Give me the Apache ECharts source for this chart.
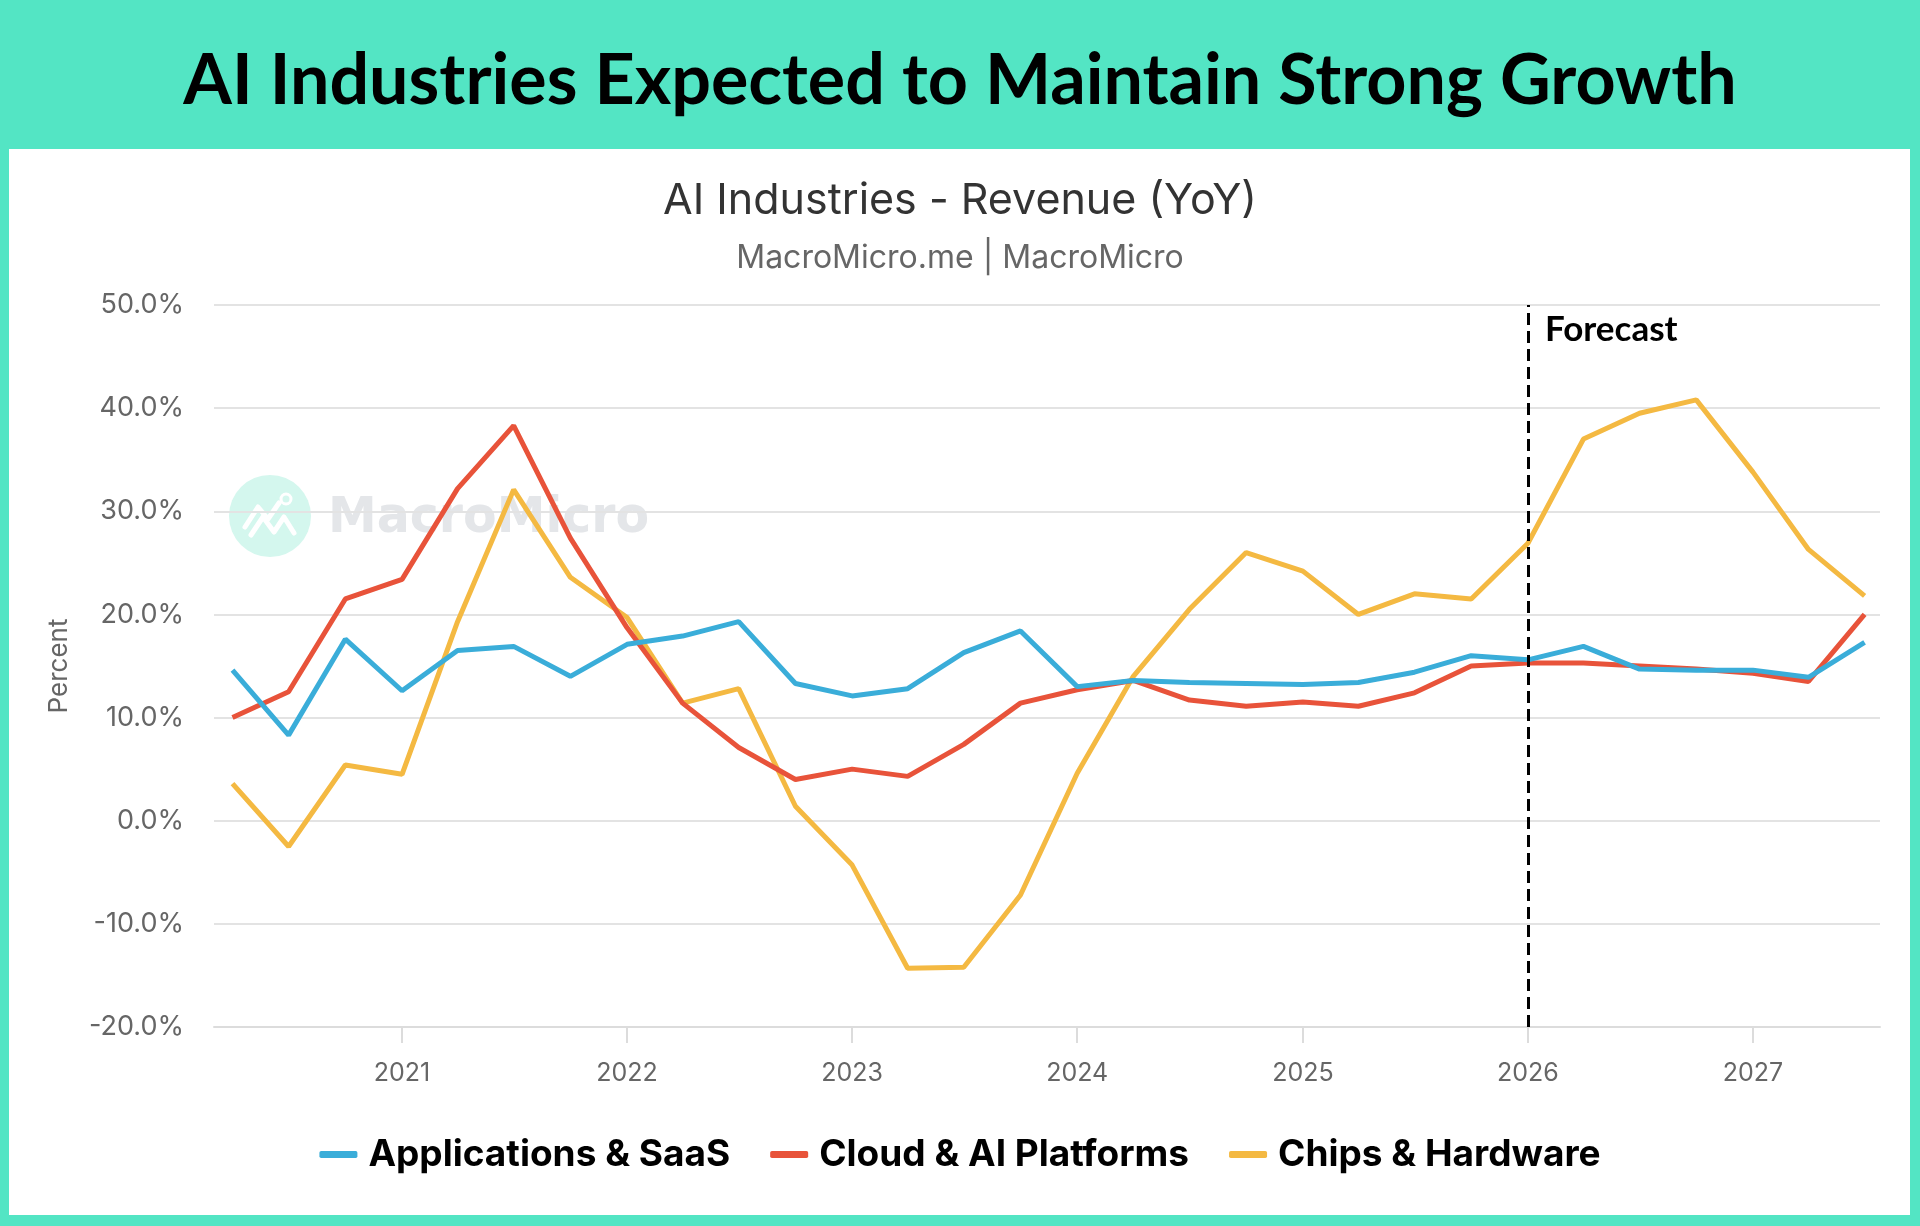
<!DOCTYPE html>
<html>
<head>
<meta charset="utf-8">
<title>AI Industries - Revenue (YoY)</title>
<script src="https://cdn.jsdelivr.net/npm/echarts@6.0.0/dist/echarts.min.js"></script>
<style>
    html, body { margin: 0; padding: 0; background: #53e5c4; }
    .chart { width: 1920px; height: 1226px; }
</style>
</head>
<body>
<div class="chart"></div>
<script>
// 季度日期（2020Q2 - 2027Q3）
var quarters = [
    "2020-04-01", "2020-07-01", "2020-10-01",
    "2021-01-01", "2021-04-01", "2021-07-01", "2021-10-01",
    "2022-01-01", "2022-04-01", "2022-07-01", "2022-10-01",
    "2023-01-01", "2023-04-01", "2023-07-01", "2023-10-01",
    "2024-01-01", "2024-04-01", "2024-07-01", "2024-10-01",
    "2025-01-01", "2025-04-01", "2025-07-01", "2025-10-01",
    "2026-01-01", "2026-04-01", "2026-07-01", "2026-10-01",
    "2027-01-01", "2027-04-01", "2027-07-01"
];
var seriesNames = ["Applications & SaaS", "Cloud & AI Platforms", "Chips & Hardware"];
var appsSaas = [14.6, 8.3, 17.6, 12.6, 16.5, 16.9, 14.0, 17.1, 17.9, 19.3, 13.3, 12.1, 12.8, 16.3, 18.4,
    13.0, 13.6, 13.4, 13.3, 13.2, 13.4, 14.4, 16.0, 15.6, 16.9, 14.7, 14.6, 14.6, 13.9, 17.3];
var cloudAi = [10.0, 12.5, 21.5, 23.4, 32.2, 38.3, 27.4, 18.7, 11.4, 7.1, 4.0, 5.0, 4.3, 7.4, 11.4,
    12.7, 13.6, 11.7, 11.1, 11.5, 11.1, 12.4, 15.0, 15.3, 15.3, 15.0, 14.7, 14.3, 13.5, 20.0];
var chipsHw = [3.6, -2.5, 5.4, 4.5, 19.3, 32.1, 23.6, 19.7, 11.4, 12.8, 1.4, -4.3, -14.3, -14.2, -7.2,
    4.6, 14.0, 20.5, 26.0, 24.2, 20.0, 22.0, 21.5, 26.9, 37.0, 39.5, 40.8, 33.8, 26.3, 21.8];
var yTicks = [-20, -10, 0, 10, 20, 30, 40, 50];
var forecastStart = "2026-01-01";
var xRange = ["2020-03-02", "2027-07-26"];

(function() {
    var myChart = echarts.init(document.querySelector(".chart"));

    // 日期 + 数值 组合成点
    function pairs(values) {
        return values.map(function(v, i) {
            return [quarters[i], v];
        });
    }

    var YEAR = 365 * 24 * 3600 * 1000;
    var font = "Inter, 'Noto Sans', sans-serif";

    var option = {
        backgroundColor: "#53e5c4",
        color: ["#3aadd9", "#e8533a", "#f4b942"],
        title: [
            {
                text: "AI Industries Expected to Maintain Strong Growth",
                left: "center",
                top: 41,
                textStyle: {
                    fontFamily: "Lato",
                    fontWeight: "bold",
                    fontSize: 70,
                    color: "#000"
                }
            },
            {
                text: "AI Industries - Revenue (YoY)",
                left: "center",
                top: 175,
                textStyle: {
                    fontFamily: font,
                    fontWeight: "normal",
                    fontSize: 43,
                    color: "#333"
                }
            },
            {
                text: "MacroMicro.me | MacroMicro",
                left: "center",
                top: 237,
                textStyle: {
                    fontFamily: font,
                    fontWeight: "normal",
                    fontSize: 32,
                    color: "#666"
                }
            }
        ],
        // 白色面板 + 水印
        graphic: [
            {
                type: "rect",
                left: 9,
                top: 149,
                z: -10,
                shape: { width: 1901, height: 1066 },
                style: { fill: "#fff" }
            },
            {
                type: "group",
                left: 229,
                top: 475,
                z: -5,
                children: [
                    {
                        type: "circle",
                        shape: { cx: 41, cy: 41, r: 41 },
                        style: { fill: "#d4f7ee" }
                    },
                    {
                        type: "polyline",
                        shape: { points: [[16, 52], [29, 32], [39, 44], [50, 28]] },
                        style: { stroke: "#fff", lineWidth: 5, fill: null, lineCap: "round", lineJoin: "round" }
                    },
                    {
                        type: "polyline",
                        shape: { points: [[22, 60], [34, 42], [45, 57], [55, 42], [65, 58]] },
                        style: { stroke: "#fff", lineWidth: 5, fill: null, lineCap: "round", lineJoin: "round" }
                    },
                    {
                        type: "circle",
                        shape: { cx: 57, cy: 24, r: 5 },
                        style: { fill: null, stroke: "#fff", lineWidth: 3 }
                    },
                    {
                        type: "text",
                        x: 99,
                        y: 44,
                        style: {
                            text: "MacroMicro",
                            fill: "#e4e6e9",
                            fontFamily: "'DejaVu Sans'",
                            fontWeight: "bold",
                            fontSize: 49,
                            verticalAlign: "middle"
                        }
                    }
                ]
            }
        ],
        legend: {
            data: seriesNames,
            left: "center",
            top: 1131,
            icon: "roundRect",
            itemWidth: 38,
            itemHeight: 7,
            itemGap: 40,
            textStyle: {
                fontFamily: font,
                fontWeight: "bold",
                fontSize: 37,
                color: "#000",
                padding: [0, 0, 0, 6]
            }
        },
        grid: {
            left: 214,
            right: 40,
            top: 305,
            bottom: 199
        },
        xAxis: {
            type: "time",
            min: xRange[0],
            max: xRange[1],
            minInterval: YEAR,
            maxInterval: YEAR + 24 * 3600 * 1000,
            axisLine: {
                onZero: false,
                lineStyle: { color: "#dcdcdc", width: 2 }
            },
            axisTick: {
                show: true,
                length: 16,
                lineStyle: { color: "#dcdcdc", width: 2 }
            },
            axisLabel: {
                showMinLabel: false,
                showMaxLabel: false,
                margin: 34,
                fontFamily: font,
                fontSize: 25,
                color: "#666",
                formatter: function(v) {
                    return new Date(v).getFullYear() + "";
                }
            },
            splitLine: { show: false }
        },
        yAxis: {
            type: "value",
            min: yTicks[0],
            max: yTicks[yTicks.length - 1],
            interval: 10,
            name: "Percent",
            nameLocation: "middle",
            nameRotate: 90,
            nameGap: 142,
            nameTextStyle: {
                fontFamily: font,
                fontSize: 26,
                color: "#666"
            },
            axisLine: { show: false },
            axisTick: { show: false },
            axisLabel: {
                margin: 30,
                fontFamily: font,
                fontSize: 27,
                color: "#666",
                formatter: function(v) {
                    return v.toFixed(1) + "%";
                }
            },
            splitLine: {
                lineStyle: { color: "#e3e3e3", width: 2 }
            }
        },
        series: [
            {
                name: seriesNames[0],
                type: "line",
                symbol: "none",
                lineStyle: { width: 5 },
                data: pairs(appsSaas),
                z: 3,
                // 预测分界线
                markLine: {
                    silent: true,
                    symbol: "none",
                    lineStyle: { color: "#000", type: [12, 6], width: 3 },
                    label: { show: false },
                    data: [{ xAxis: forecastStart }]
                },
                markPoint: {
                    silent: true,
                    symbolSize: 0,
                    label: {
                        show: true,
                        position: "right",
                        distance: 17,
                        formatter: "Forecast",
                        fontFamily: "Lato",
                        fontWeight: "bold",
                        fontSize: 35,
                        color: "#000"
                    },
                    data: [{ coord: [forecastStart, 47.6] }]
                }
            },
            {
                name: seriesNames[1],
                type: "line",
                symbol: "none",
                lineStyle: { width: 5 },
                data: pairs(cloudAi),
                z: 2
            },
            {
                name: seriesNames[2],
                type: "line",
                symbol: "none",
                lineStyle: { width: 5 },
                data: pairs(chipsHw),
                z: 1
            }
        ]
    };

    myChart.setOption(option);
    window.addEventListener("resize", function() {
        myChart.resize();
    });
})();
</script>
</body>
</html>
